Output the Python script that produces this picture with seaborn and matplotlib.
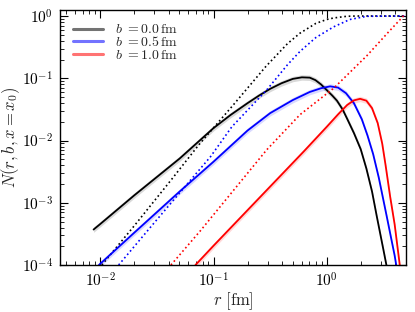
import numpy as np
import pandas as pd
import seaborn as sns
import matplotlib.pyplot as plt
from matplotlib.lines import Line2D
from matplotlib.ticker import FuncFormatter

# log10(r), log10(N), solid curves N(r, b, x=x0)
lr_b00 = [-2.06, -2.0, -1.7, -1.3, -1.0, -0.85, -0.7, -0.6, -0.5, -0.4, -0.3, -0.22, -0.15, -0.1, -0.05, 0.0, 0.05, 0.09, 0.14, 0.18, 0.24, 0.30, 0.35, 0.40, 0.44, 0.50, 0.57]
ln_b00 = [-3.43, -3.34, -2.88, -2.29, -1.80, -1.59, -1.40, -1.28, -1.17, -1.08, -1.01, -0.985, -0.99, -1.03, -1.10, -1.19, -1.28, -1.36, -1.50, -1.65, -1.88, -2.14, -2.45, -2.82, -3.20, -3.75, -4.40]

lr_b05 = [-2.013, -1.7, -1.3, -1.0, -0.7, -0.5, -0.3, -0.15, -0.05, 0.03, 0.1, 0.17, 0.24, 0.31, 0.36, 0.41, 0.46, 0.53, 0.60, 0.65]
ln_b05 = [-4.0, -3.48, -2.82, -2.34, -1.84, -1.56, -1.35, -1.22, -1.16, -1.13, -1.15, -1.24, -1.40, -1.66, -1.92, -2.22, -2.60, -3.22, -3.85, -4.4]

lr_b10 = [-1.16, -1.0, -0.7, -0.4, -0.2, 0.0, 0.1, 0.18, 0.24, 0.295, 0.35, 0.40, 0.45, 0.49, 0.52, 0.56, 0.60, 0.645, 0.67]
ln_b10 = [-4.0, -3.69, -3.12, -2.55, -2.17, -1.78, -1.58, -1.43, -1.355, -1.33, -1.36, -1.48, -1.72, -2.05, -2.40, -2.90, -3.35, -4.0, -4.5]

# dotted curves
rd_b00 = [0.0103, 0.02, 0.042, 0.074, 0.145, 0.29, 0.45, 0.58, 0.8, 1.0, 1.15, 1.5, 1.84, 5.0]
nd_b00 = [1e-4, 4.3e-4, 2.3e-3, 8.5e-3, 0.035, 0.155, 0.36, 0.53, 0.76, 0.88, 0.93, 0.99, 1.0, 1.0]

rd_b05 = [0.0145, 0.03, 0.094, 0.145, 0.295, 0.45, 0.58, 0.8, 1.15, 1.6, 2.26, 5.0]
nd_b05 = [1e-4, 4.8e-4, 5.5e-3, 0.0166, 0.065, 0.165, 0.27, 0.45, 0.67, 0.88, 0.99, 1.0]

rd_b10 = [0.042, 0.077, 0.295, 0.58, 1.15, 2.26, 3.5, 4.76, 5.0]
nd_b10 = [1e-4, 3.6e-4, 7.1e-3, 0.026, 0.069, 0.23, 0.55, 1.0, 1.0]

labels = [r'$b\ =0.0\,\mathrm{fm}$', r'$b\ =0.5\,\mathrm{fm}$', r'$b\ =1.0\,\mathrm{fm}$']
colors = ['black', 'blue', 'red']

sns.set_style("ticks")
plt.rcParams['mathtext.fontset'] = 'cm'
plt.rcParams['font.family'] = ['DejaVu Serif']
plt.rcParams['font.size'] = 10

fig = plt.figure(figsize=(4.15, 3.12), dpi=100)
ax = fig.add_axes([0.1446, 0.1506, 0.8334, 0.8174])

solid = [(10 ** np.array(lr_b00), 10 ** np.array(ln_b00)),
         (10 ** np.array(lr_b05), 10 ** np.array(ln_b05)),
         (10 ** np.array(lr_b10), 10 ** np.array(ln_b10))]
dotted = [(rd_b00, nd_b00), (rd_b05, nd_b05), (rd_b10, nd_b10)]

for (r, n), (rd, nd), c in zip(solid, dotted, colors):
    df = pd.DataFrame({'r': r, 'N': n})
    ax.fill_between(df['r'], df['N'] * 0.9, df['N'] * 1.1, color=c, alpha=0.15, lw=0)
    sns.lineplot(data=df, x='r', y='N', ax=ax, color=c, lw=1.3, estimator=None, sort=False)
    dd = pd.DataFrame({'r': rd, 'N': nd})
    sns.lineplot(data=dd, x='r', y='N', ax=ax, color=c, lw=1.2, linestyle=':', estimator=None, sort=False)

ax.set_xscale('log')
ax.set_yscale('log')
ax.set_xlim(4.4e-3, 5.0)
ax.set_ylim(1e-4, 1.25)

pow10 = FuncFormatter(lambda v, p: r'$10^{%d}$' % round(np.log10(v)))
ax.xaxis.set_major_formatter(pow10)
ax.yaxis.set_major_formatter(pow10)

ax.set_xlabel(r'$r\ [\mathrm{fm}]$', fontsize=12, labelpad=0)
ax.set_ylabel(r'$N(r,b,x=x_0)$', fontsize=12, labelpad=0)

ax.tick_params(which='both', direction='in', top=True, right=True, labelsize=11, colors='black')
ax.tick_params(which='major', length=6, width=0.8, pad=5)
ax.tick_params(which='minor', length=3, width=0.6)
for s in ax.spines.values():
    s.set_color('black')
    s.set_linewidth(1.0)

handles = [Line2D([0], [0], color=c, lw=2.2, alpha=0.55) for c in colors]
ax.legend(handles, labels, loc='upper left', frameon=False, fontsize=10,
          handlelength=2.2, handletextpad=0.85, labelspacing=-0.1)

fig.savefig('out.png', dpi=100)
